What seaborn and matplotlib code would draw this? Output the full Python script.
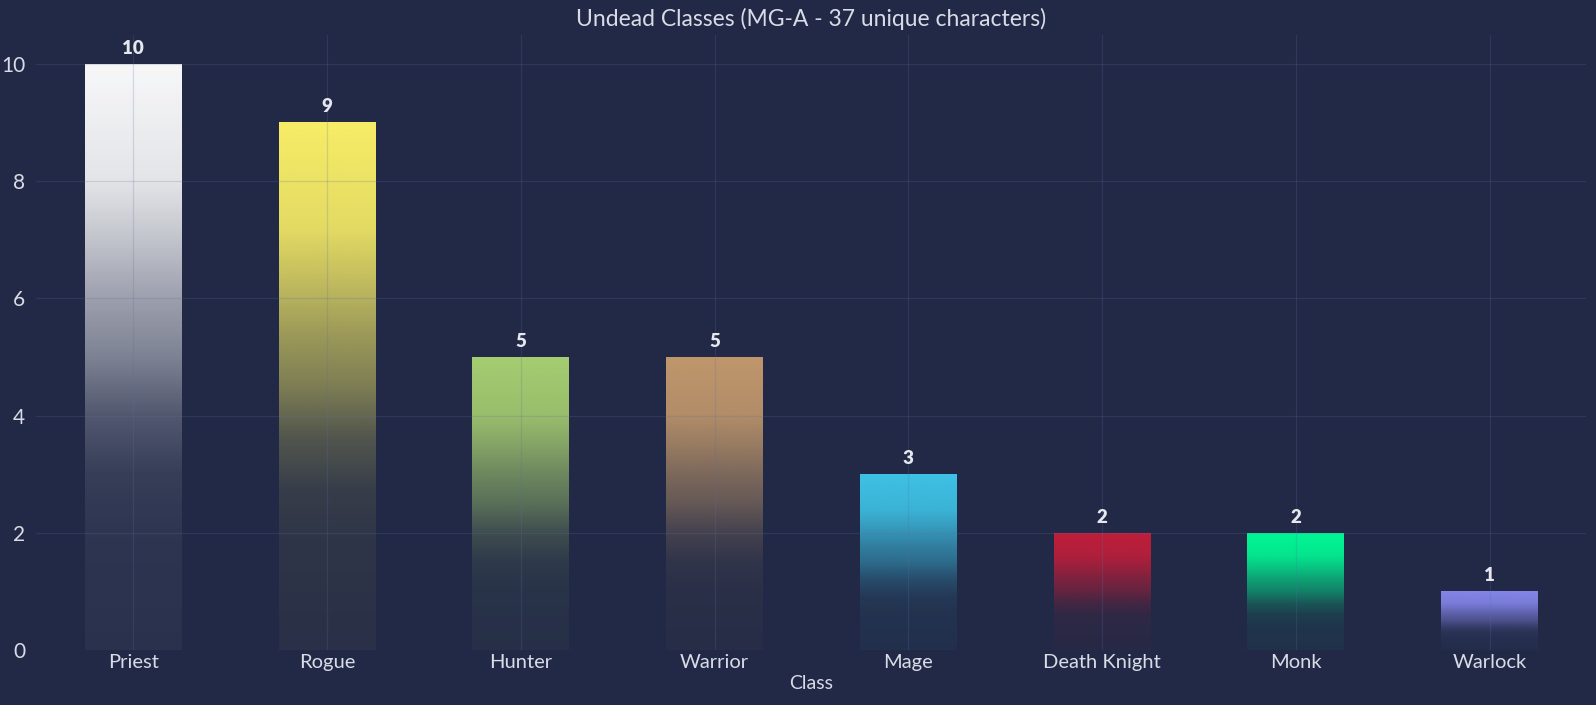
import matplotlib
matplotlib.use("Agg")
import matplotlib.pyplot as plt
import matplotlib.colors as mcolors
import seaborn as sns
import numpy as np
import pandas as pd

classes = ['Priest', 'Rogue', 'Hunter', 'Warrior', 'Mage', 'Death Knight', 'Monk', 'Warlock']
counts = [10, 9, 5, 5, 3, 2, 2, 1]
class_colors = ['#FFFFFF', '#FFF468', '#AAD372', '#C69B6D', '#3FC7EB', '#C41E3A', '#00FF98', '#8788EE']

BG = '#212946'
TXT = '#D9DCE6'

sns.set_theme(style='dark')
plt.rcParams['font.family'] = ['Lato', 'DejaVu Sans']

df = pd.DataFrame({'Class': classes, 'Count': counts})

fig = plt.figure(figsize=(15.96, 7.05), dpi=100, facecolor=BG)
ax = fig.add_axes([0.0228, 0.078, 0.9712, 0.873])
ax.set_facecolor(BG)

sns.barplot(data=df, x='Class', y='Count', hue='Class', palette=class_colors,
            width=0.5, legend=False, ax=ax)

# swap flat bars for a top-to-bottom fade
t_pts = [0, 0.2, 0.3, 0.4, 0.5, 0.6, 0.7, 0.8, 1.0]
a_pts = [0.04, 0.06, 0.1, 0.22, 0.42, 0.56, 0.73, 0.88, 0.97]
tt = np.linspace(0, 1, 256)
alph = np.interp(tt, t_pts, a_pts)
for patch, col in zip(ax.patches, class_colors):
    x0, y0 = patch.get_x(), patch.get_y()
    w, h = patch.get_width(), patch.get_height()
    rgba = np.zeros((256, 1, 4))
    rgba[:, 0, :3] = mcolors.to_rgb(col)
    rgba[:, 0, 3] = alph
    im = ax.imshow(rgba, extent=[x0, x0 + w, y0, y0 + h], origin='lower',
                   aspect='auto', zorder=1, interpolation='bilinear')
    im.set_clip_path(patch)
    patch.set_facecolor('none')
    patch.set_edgecolor('none')
    ax.text(x0 + w / 2, y0 + h + 0.12, str(int(h)), ha='center', va='bottom',
            color='#E6E8EE', fontsize=13.5, fontweight='heavy', zorder=4)

ax.set_xlim(-0.5, len(classes) - 0.5)
ax.set_ylim(0, 10.5)
ax.set_yticks([0, 2, 4, 6, 8, 10])
ax.grid(True, color='#5C6FA8', alpha=0.22, linewidth=0.9, zorder=3)
ax.set_axisbelow(False)
for s in ax.spines.values():
    s.set_visible(False)
ax.tick_params(axis='x', colors=TXT, labelsize=14.5, length=0, pad=3)
ax.tick_params(axis='y', colors=TXT, labelsize=15, length=0, pad=8)
ax.set_xlabel('Class', color=TXT, fontsize=14, labelpad=3)
ax.set_ylabel('')
ax.set_title('Undead Classes (MG-A - 37 unique characters)', color=TXT, fontsize=16.5, pad=6)

fig.savefig('out.png', dpi=100, facecolor=BG)
